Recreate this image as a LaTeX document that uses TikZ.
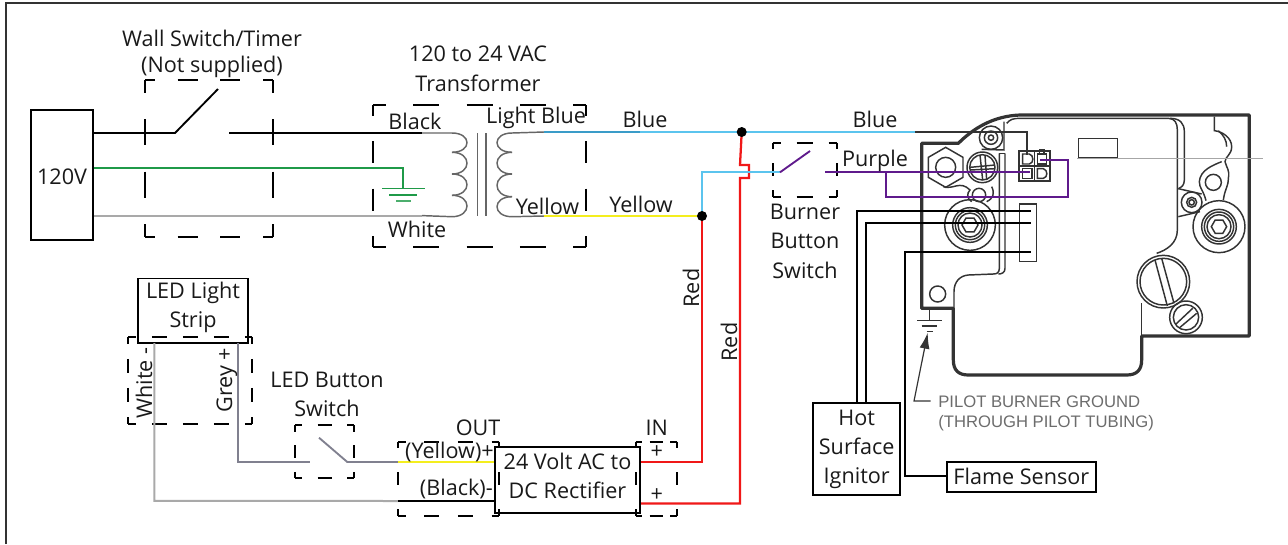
\documentclass[tikz,border=0pt]{standalone}
\usepackage{fontspec}
\setmainfont{Open Sans}
\newfontfamily\arialf{Liberation Sans}
\usetikzlibrary{arrows.meta}
\definecolor{wblue}{HTML}{5BC4EE}
\definecolor{wdblue}{HTML}{3A9CC8}
\definecolor{wyellow}{HTML}{F4EE1E}
\definecolor{wgreen}{HTML}{1F9A48}
\definecolor{wgrey}{HTML}{A9A9A9}
\definecolor{wslate}{HTML}{80808F}
\definecolor{wpurple}{HTML}{5F1A8C}
\definecolor{wred}{HTML}{F01818}
\definecolor{vgrey}{HTML}{333333}
\tikzset{
  lbl/.style={inner sep=0pt,font=\fontsize{16.2}{21.7}\selectfont,text=black!90,align=center},
  bx/.style={draw=black,line width=1.4pt,inner sep=0pt},
  wire/.style={line width=1.4pt,line join=miter},
  coil/.style={draw=gray!80!black,line width=1.1pt},
  dbx/.style={draw=black,line width=1.3pt},
  vthin/.style={draw=vgrey,line width=0.75pt},
  vmid/.style={draw=vgrey,line width=1.1pt},
  vthick/.style={draw=vgrey,line width=2.4pt,line join=round},
  pilot/.style={inner sep=0pt,anchor=west,text=gray!85!black,font=\arialf\fontsize{12.5}{14}\selectfont},
}
% x1 y1 x2 y2 nh nv dh dv : dashed box, half a dash at each corner
\newcommand{\dbox}[8]{%
  \pgfmathsetmacro\dbHd{#7*0.75}%
  \pgfmathsetmacro\dbHg{abs(#3-#1)/#5*0.75-\dbHd}%
  \pgfmathsetmacro\dbHp{\dbHd/2}%
  \pgfmathsetmacro\dbVd{#8*0.75}%
  \pgfmathsetmacro\dbVg{abs(#4-#2)/#6*0.75-\dbVd}%
  \pgfmathsetmacro\dbVp{\dbVd/2}%
  \draw[dbx,dash pattern=on \dbHd pt off \dbHg pt,dash phase=\dbHp pt] (#1,#2)--(#3,#2) (#1,#4)--(#3,#4);
  \draw[dbx,dash pattern=on \dbVd pt off \dbVg pt,dash phase=\dbVp pt] (#1,#2)--(#1,#4) (#3,#2)--(#3,#4);
}
\newcommand{\hexa}[4]{\draw[vmid,shift={(#1,#2)}] (#4:#3)--(#4+60:#3)--(#4+120:#3)--(#4+180:#3)--(#4+240:#3)--(#4+300:#3)--cycle;}
\begin{document}
\begin{tikzpicture}[x=0.75pt,y=-0.75pt]
\useasboundingbox (0,0) rectangle (1288,544);
\draw[draw=vgrey,line width=2pt] (6,544)--(6,3)--(1288,3);

% ---------- valve drawing (coordinates of a 3x crop)
\begin{scope}[shift={(880,90)},scale=1/3]
  \draw[vthick] (125,655)--(125,160)--(235,160) .. controls (280,115) and (340,78) .. (420,75)
     --(1108,75)--(1108,738)--(785,738)--(785,810) .. controls (785,840) and (770,855) .. (740,855)
     --(265,855) .. controls (235,855) and (220,840) .. (220,810)--(220,655)--cycle;
  % inner outline
  \draw[vmid] (380,100) .. controls (390,88) and (400,85) .. (420,85)--(865,85) .. controls (885,85) and (892,100) .. (892,120)
     --(892,420) .. controls (892,460) and (860,480) .. (830,490);
  \draw[vmid] (870,85) .. controls (900,85) and (913,100) .. (913,125)--(913,270) .. controls (913,285) and (905,292) .. (895,296);
  \draw[vmid] (895,296)--(965,312) (895,380)--(960,365);
  \draw[vmid] (358,190)--(358,535) .. controls (358,548) and (350,552) .. (340,552)--(265,555) .. controls (240,557) and (222,575) .. (222,605)--(222,655);
  \draw[vmid] (375,190)--(375,535) .. controls (375,548) and (365,552) .. (355,552);
  \draw[vmid] (358,190)--(375,190);
  \draw[vmid] (372,95)--(372,180)--(305,178);
  \draw[vmid] (785,640)--(785,738);
  % left fittings
  \draw[vmid] (333,143) circle[radius=35] (333,143) circle[radius=20] (333,143) circle[radius=8];
  \hexa{197}{232}{60}{30}
  \draw[vmid] (197,232) circle[radius=30];
  \draw[vmid] (307,232) circle[radius=46] (307,232) circle[radius=38];
  \draw[vmid] (270,232)--(345,225) (272,240)--(345,236) (300,195)--(308,270) (315,195)--(320,270);
  \draw[vmid] (190,290) .. controls (220,300) and (240,270) .. (270,300) .. controls (260,310) and (260,325) .. (275,335);
  \draw[vmid] (297,315) circle[radius=20];
  \draw[vmid] (335,290) .. controls (345,310) and (340,325) .. (320,335);
  \draw[vmid] (270,405) circle[radius=76] (270,405) circle[radius=52] (270,405) circle[radius=44] (270,405) circle[radius=36];
  \hexa{270}{405}{24}{0}
  \draw[vmid] (173,612) circle[radius=24];
  % connector block
  \draw[draw=vgrey,line width=1.5pt] (418,183) rectangle (510,273);
  \draw[vmid] (418,228)--(510,228) (464,183)--(464,273);
  \draw[vmid] (428,192)--(448,192) .. controls (462,195) and (462,220) .. (448,222)--(428,222)--cycle;
  \draw[vmid] (472,192)--(500,192)--(500,222)--(472,222)--cycle (478,192)--(478,178)--(492,178)--(492,192);
  \draw[vmid] (428,236)--(456,236)--(456,265)--(428,265)--cycle;
  \draw[vmid] (472,236)--(490,236) .. controls (504,240) and (504,262) .. (490,265)--(472,265)--cycle;
  \draw[draw=vgrey,line width=1.2pt] (596,146) rectangle (713,202);
  \draw[draw=vgrey,line width=1.2pt,fill=white] (418,342) rectangle (469,515);
  % right fittings
  \draw[vmid] (1003,80)--(1003,122) .. controls (1030,125) and (1055,145) .. (1055,170) .. controls (1055,195) and (1035,200) .. (1035,215)
     .. controls (1040,235) and (1050,240) .. (1045,265) .. controls (1045,290) and (1035,295) .. (1030,330);
  \draw[vmid] (1015,122) .. controls (1030,135) and (1040,150) .. (1040,170);
  \draw[vmid] (1025,215) .. controls (1000,225) and (960,240) .. (958,275) .. controls (958,295) and (970,300) .. (978,332);
  \draw[vmid] (1000,277) circle[radius=24];
  \draw[vmid] (935,337) circle[radius=31] (935,337) circle[radius=15] (935,337) circle[radius=8];
  \draw[vmid] (1017,410) circle[radius=78] (1017,410) circle[radius=52] (1017,410) circle[radius=44] (1017,410) circle[radius=36];
  \hexa{1017}{410}{23}{0}
  \draw[vmid] (850,575) circle[radius=79] (850,575) circle[radius=70];
  \draw[vmid] (825,510)--(862,648) (845,505)--(882,640);
  \draw[vmid] (918,682) circle[radius=49] (918,682) circle[radius=38];
  \draw[vmid] (888,702)--(938,655) (900,712)--(950,670);
  % ground symbol
  \draw[draw=vgrey,line width=1pt] (148,655)--(148,692) (112,692)--(186,692) (125,708)--(172,708) (140,725)--(158,725);
\end{scope}
\draw[draw=gray!70,line width=0.7pt] (1077,158)--(1263,158);

% ---------- boxes
\node[bx,minimum width=46.5pt,minimum height=97.5pt] (src) at (62,175) {};
\node[bx,minimum width=82.5pt,minimum height=48.5pt] (strip) at (193.3,310.8) {};
\node[bx,line width=1.7pt,minimum width=108.8pt,minimum height=49pt] (rect) at (567.5,480) {};
\node[bx,minimum width=65.5pt,minimum height=68.5pt] (hsi) at (856.7,449) {};
\node[bx,minimum width=112pt,minimum height=22.5pt] (flame) at (1021.3,477.3) {};
\node[lbl] (srcT) at (62,177) {120V};
\node[lbl] (stripT) at (193,307) {LED Light\\Strip};
\node[lbl] (rectT) at (567.5,475.5) {24 Volt AC to\\DC Rectifier};
\node[lbl] (hsiT) at (856.7,449) {Hot\\Surface\\Ignitor};
\node[lbl] (flameT) at (1021.3,476) {Flame Sensor};

% ---------- dashed enclosures
\dbox{145}{80}{273}{237}{3}{3}{20}{26}
\dbox{373}{105}{586}{247}{4}{3}{26}{22}
\dbox{772.7}{142.7}{836.7}{196.7}{2}{2}{16}{13}
\dbox{128.3}{336.7}{252.3}{424}{4}{3}{15}{14}
\dbox{295}{425}{354}{478.3}{2}{2}{14}{13}
\dbox{398.3}{441.7}{499}{515.7}{3}{2}{15}{13}
\dbox{635.7}{441.7}{676.7}{515.7}{2}{2}{13}{13}

% ---------- connector ends
\coordinate (pivA) at (175,133);
\coordinate (tipA) at (218,89);
\coordinate (resA) at (229,133);
\coordinate (priTop) at (422,133);
\coordinate (priBot) at (422,215.6);
\coordinate (gndA) at (403,188.5);
\coordinate (secTop) at (544,132);
\coordinate (secBot) at (544,216);
\coordinate (jBlue) at (741.7,132);
\coordinate (jYel) at (702,216);
\coordinate (valveB) at (915,132);
\coordinate (pivB) at (780,172.3);
\coordinate (tipB) at (810,151);
\coordinate (resB) at (825,172.3);
\coordinate (pur1) at (1030,172.3);
\coordinate (purT) at (885.7,172.3);
\coordinate (pur2) at (1040,160);
\coordinate (outP) at (398,462);
\coordinate (outN) at (398,501);
\coordinate (pivC) at (347.3,462);
\coordinate (tipC) at (319,437.7);
\coordinate (resC) at (310,462);

% ---------- wires
\draw[wire,black] (src.east |- priTop)--(pivA)--(tipA);
\draw[wire,black] (resA)--(priTop);
\draw[wire,wgreen] (src.east |- 0,168)--(403,168)--(gndA);
\draw[wire,wgreen] (382,188.5)--(425,188.5) (389,195)--(417,195);
\draw[wire,wgreen,draw opacity=.8] (396,201)--(411,201);
\draw[wire,wgrey] (src.east |- priBot)--(priBot);

% transformer
\draw[coil] (priTop)--(452,133) (priBot)--(452,216.7);
\foreach \a/\b in {133/152.3,152.3/174,174/195.3,195.3/216.7}
  \draw[coil] (452,\a) .. controls (472,\a) and (472,\b) .. (452,\b);
\draw[coil] (477.3,133)--(477.3,216) (486,133)--(486,216);
\foreach \a/\b in {133/152.3,152.3/174,174/196.7,196.7/216.7}
  \draw[coil] (512,\a) .. controls (492,\a) and (492,\b) .. (512,\b);
\draw[coil] (512,133)--(secTop) (512,216.7)--(secBot);

% low voltage
\draw[wire,wdblue] (secTop)--(640,132);
\draw[wire,wblue] (640,132)--(valveB);
\draw[wire,wyellow] (secBot)--(jYel);
\draw[wire,wred,line width=1.7pt] (jBlue)--(740,165)--(749,165)--(749,178)--(740,178)--(740 ,503.5)--(rect.east |- 0,503.5);
\draw[wire,wred,line width=1.7pt] (jYel)--(702,462)--(rect.east |- outP);
\draw[wire,wblue] (jYel)--(702,172.3)--(pivB);
\draw[wire,wpurple] (pivB)--(tipB);
\draw[wire,wpurple] (resB)--(pur1);
\draw[wire,wpurple] (purT)--(885.7,196.7)--(1067.7,196.7)--(1067.7,160)--(pur2);
\draw[draw=vgrey,line width=0.9pt] (valveB)--(1027,132)--(1027,155);
\fill (jBlue) circle[radius=5];
\fill (jYel) circle[radius=5];

% sensors
\draw[wire,black] (hsi.north -| 857,0)--(857,210.7)--(1030.7,210.7);
\draw[wire,black] (hsi.north -| 865.7,0)--(865.7,222.7)--(1030.7,222.7);
\draw[wire,black] (1030.7,252.3)--(905.3,252.3)--(905.3,475.7)--(flame.west |- 0,475.7);

% pilot ground arrow
\draw[draw=vgrey,line width=0.9pt,-{Latex[length=12pt,width=7.5pt]}] (930.7,401)--(914,401)--(927.7,332.7);
\node[pilot] (pa) at (938,402) {PILOT BURNER GROUND};
\node[pilot] (pb) at (938,423) {(THROUGH PILOT TUBING)};

% LED side
\draw[wire,wgrey,line width=1.5pt] (154.3,343)--(154.3,500.8)--(outN);
\draw[wire,black] (outN)--(rect.west |- outN);
\draw[wire,wslate,line width=1.5pt] (238.3,343)--(238.3,462)--(resC);
\draw[wire,wslate] (tipC)--(pivC)--(outP);
\draw[wire,wyellow] (outP)--(rect.west |- outP);

% ---------- labels
\node[lbl] (t1) at (212,38) {Wall Switch/Timer};
\node[lbl] (t2) at (212,67) {(Not supplied)};
\node[lbl] (t3) at (478,54) {120 to 24 VAC};
\node[lbl] (t4) at (478,83) {Transformer};
\node[lbl] (t5) at (415,121) {Black};
\node[lbl] (t6) at (536,118) {Light Blue};
\node[lbl] (t7) at (645,119) {Blue};
\node[lbl] (t8) at (875,119) {Blue};
\node[lbl] (t9) at (547.5,206) {Yellow};
\node[lbl] (t10) at (641,204) {Yellow};
\node[lbl] (t11) at (417,229) {White};
\node[lbl] (t12) at (875,161) {Purple};
\node[lbl] (t13) at (805,212) {Burner};
\node[lbl] (t14) at (805,241) {Button};
\node[lbl] (t15) at (805,270) {Switch};
\node[lbl,rotate=90] (t16) at (691,288) {Red};
\node[lbl,rotate=90] (t17) at (729,342) {Red};
\node[lbl,rotate=90] (t18) at (144,383) {White -};
\node[lbl,rotate=90] (t19) at (227,380) {Grey +};
\node[lbl] (t20) at (327,380) {LED Button};
\node[lbl] (t21) at (327,408) {Switch};
\node[lbl] (t22) at (478,428) {OUT};
\node[lbl] (t23) at (656.7,428) {IN};
\node[lbl,anchor=east] (t24) at (494,452) {(Yellow)+};
\node[lbl,anchor=east] (t25) at (493,489) {(Black)-};
\node[lbl] (t26) at (656.7,452) {+};
\node[lbl] (t27) at (656.7,495) {+};
\end{tikzpicture}
\end{document}
